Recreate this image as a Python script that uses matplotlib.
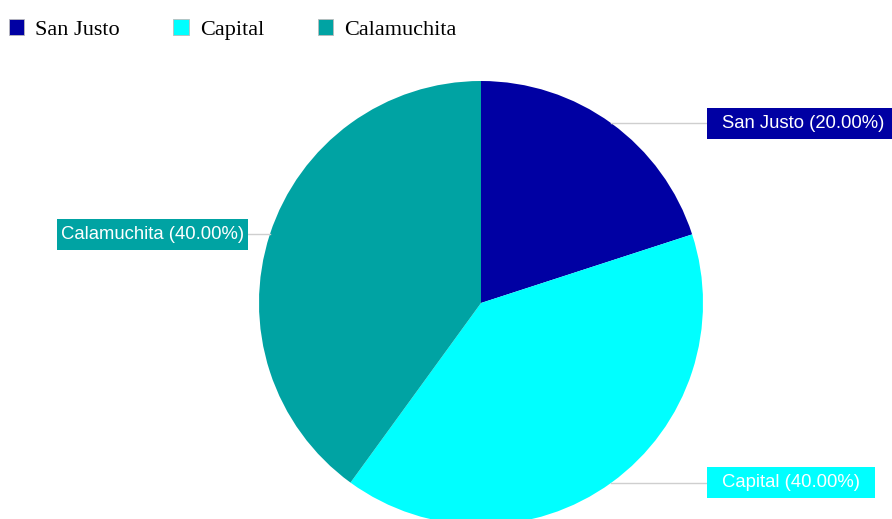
import matplotlib
matplotlib.use("Agg")
import matplotlib.pyplot as plt
from matplotlib.patches import Rectangle
import numpy as np

categories = ["San Justo", "Capital", "Calamuchita"]
values = [20, 40, 40]
colors = ["#0000a3", "#00ffff", "#00a3a3"]

W, H = 892, 519
fig = plt.figure(figsize=(W / 100, H / 100), dpi=100)
ax = fig.add_axes([0, 0, 1, 1])

cx, cy, R = 481, H - 303, 222
wedges, _ = ax.pie(values, colors=colors, startangle=90, counterclock=False,
                   radius=R, center=(cx, cy), wedgeprops=dict(linewidth=0))
ax.set_xlim(0, W)
ax.set_ylim(0, H)
ax.set_aspect("equal")
ax.axis("off")

label_x_right = 707
label_x_left = 248
box_h = 31
pad_in = 15
pad_left_side = 4

fig.canvas.draw()
renderer = fig.canvas.get_renderer()
total = sum(values)
for w, cat, val, col in zip(wedges, categories, values, colors):
    ang = np.deg2rad((w.theta1 + w.theta2) / 2)
    px, py = cx + R * np.cos(ang), cy + R * np.sin(ang)
    right = np.cos(ang) > 0
    lx = label_x_right if right else label_x_left
    ax.plot([px, lx], [py, py], color="#cfcfcf", lw=1, zorder=1)
    txt = f"{cat} ({val / total * 100:.2f}%)"
    if right:
        t = ax.text(lx + pad_in, py, txt, ha="left", va="center", color="white",
                    fontsize=13.3, family="Liberation Sans", zorder=4)
    else:
        t = ax.text(lx - pad_left_side, py, txt, ha="right", va="center", color="white",
                    fontsize=13.3, family="Liberation Sans", zorder=4)
    bb = t.get_window_extent(renderer)
    tw = bb.width
    if right:
        x0 = lx
        bw = tw + 2 * pad_in
    else:
        bw = tw + 2 * pad_left_side
        x0 = lx - bw
    ax.add_patch(Rectangle((x0, py - box_h / 2), bw, box_h, facecolor=col,
                           edgecolor="none", zorder=3, clip_on=False))

handles = [Rectangle((0, 0), 1, 1, facecolor=c, edgecolor="#bbbbbb", linewidth=0.6)
           for c in colors]
fig.legend(handles, categories, loc="upper left", bbox_to_anchor=(-0.0127, 1.002),
           ncol=3, frameon=False, handlelength=0.7, handleheight=0.7,
           handletextpad=0.5, columnspacing=2.4,
           prop=dict(family="Liberation Serif", size=16), borderaxespad=0.5)

fig.savefig("out.png", dpi=100)
